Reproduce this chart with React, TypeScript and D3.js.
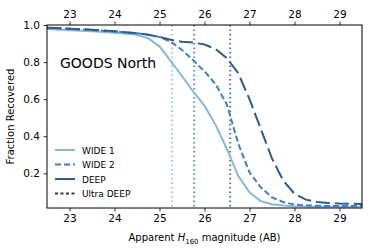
import * as d3 from 'd3';
import {useEffect, useRef} from 'react';

const mags = [22.5, 23, 23.5, 24, 24.5, 24.75, 25, 25.25, 25.5, 25.75, 26, 26.25, 26.5, 26.75, 27, 27.25, 27.5, 27.75, 28, 28.25, 28.5, 28.75, 29, 29.25, 29.5];
const wide1 = [0.978, 0.972, 0.966, 0.958, 0.947, 0.928, 0.885, 0.805, 0.725, 0.64, 0.565, 0.46, 0.33, 0.185, 0.097, 0.05, 0.033, 0.026, 0.022, 0.021, 0.02, 0.02, 0.02, 0.02, 0.02];
const wide2 = [0.985, 0.98, 0.973, 0.965, 0.955, 0.948, 0.935, 0.91, 0.865, 0.81, 0.75, 0.68, 0.57, 0.36, 0.205, 0.125, 0.07, 0.045, 0.032, 0.027, 0.025, 0.024, 0.024, 0.024, 0.024];
const deep = [0.985, 0.98, 0.975, 0.966, 0.956, 0.948, 0.935, 0.92, 0.91, 0.905, 0.895, 0.87, 0.82, 0.74, 0.6, 0.44, 0.28, 0.16, 0.09, 0.058, 0.045, 0.04, 0.037, 0.036, 0.035];
const limits = [25.28, 25.77, 26.57];
const xTicks = [23, 24, 25, 26, 27, 28, 29];
const yTicks = [0.2, 0.4, 0.6, 0.8, 1.0];
const legendNames = ['WIDE 1', 'WIDE 2', 'DEEP', 'Ultra DEEP'];

const colors = ['#89b5da', '#3f80bb', '#2f5b87', '#1f3e5e'];
const dashes = ['none', '6,3', '14,5', '3,2.5'];
const limitColors = ['#9cc4e4', '#5b93c7', '#4a78a8'];

export default function App() {
    const ref = useRef(null);
    const width = 374;
    const height = 250;
    const margins = {top: 25, right: 12, bottom: 42, left: 47};

    useEffect(() => {
        const svg = d3.select(ref.current);
        svg.selectAll('*').remove();
        const font = 'DejaVu Sans, sans-serif';

        const xScale = d3
            .scaleLinear()
            .domain([22.5, 29.5])
            .range([margins.left, width - margins.right]);
        const yScale = d3
            .scaleLinear()
            .domain([0.013, 1.0])
            .range([height - margins.bottom, margins.top]);

        const plot = svg.append('g');
        const clipId = 'clip-area';
        svg.append('clipPath')
            .attr('id', clipId)
            .append('rect')
            .attr('x', margins.left)
            .attr('y', margins.top)
            .attr('width', width - margins.left - margins.right)
            .attr('height', height - margins.top - margins.bottom);
        plot.attr('clip-path', `url(#${clipId})`);

        limits.forEach((m, i) => {
            plot.append('line')
                .attr('x1', xScale(m))
                .attr('x2', xScale(m))
                .attr('y1', margins.top)
                .attr('y2', height - margins.bottom)
                .attr('stroke', limitColors[i])
                .attr('stroke-width', 2)
                .attr('stroke-dasharray', '1.5,3');
        });

        const line = d3
            .line<number>()
            .x((_, i) => xScale(mags[i]))
            .y((d) => yScale(d));

        [wide1, wide2, deep].forEach((series, i) => {
            plot.append('path')
                .attr('d', line(series))
                .attr('fill', 'none')
                .attr('stroke', colors[i])
                .attr('stroke-width', 2)
                .attr('stroke-dasharray', dashes[i]);
        });

        const xBottom = d3.axisBottom(xScale).tickValues(xTicks).tickSize(3.5).tickPadding(3.5).tickFormat(d3.format('d'));
        const xTop = d3.axisTop(xScale).tickValues(xTicks).tickSize(3.5).tickPadding(3.5).tickFormat(d3.format('d'));
        const yAxis = d3.axisLeft(yScale).tickValues(yTicks).tickSize(3.5).tickPadding(3.5).tickFormat(d3.format('.1f'));

        const styleAxis = (g) => {
            g.select('.domain').remove();
            g.selectAll('text').attr('font-family', font).attr('font-size', 10.5).attr('fill', '#000');
            g.selectAll('line').attr('stroke', '#000').attr('stroke-width', 0.8);
        };

        svg.append('g').attr('transform', `translate(0, ${height - margins.bottom})`).call(xBottom).call(styleAxis);
        svg.append('g').attr('transform', `translate(0, ${margins.top})`).call(xTop).call(styleAxis);
        svg.append('g').attr('transform', `translate(${margins.left}, 0)`).call(yAxis).call(styleAxis);

        svg.append('rect')
            .attr('x', margins.left)
            .attr('y', margins.top)
            .attr('width', width - margins.left - margins.right)
            .attr('height', height - margins.top - margins.bottom)
            .attr('fill', 'none')
            .attr('stroke', '#000')
            .attr('stroke-width', 1);

        svg.append('text')
            .attr('x', 60)
            .attr('y', 68)
            .attr('font-family', font)
            .attr('font-size', 14)
            .text('GOODS North');

        const xl = svg.append('text')
            .attr('x', (margins.left + width - margins.right) / 2)
            .attr('y', 241)
            .attr('text-anchor', 'middle')
            .attr('font-family', font)
            .attr('font-size', 10);
        xl.append('tspan').text('Apparent ');
        xl.append('tspan').attr('font-style', 'italic').text('H');
        xl.append('tspan').attr('font-size', 7).attr('dy', 2.5).text('160');
        xl.append('tspan').attr('dy', -2.5).text(' magnitude (AB)');

        svg.append('text')
            .attr('transform', `translate(14, ${(margins.top + height - margins.bottom) / 2}) rotate(-90)`)
            .attr('text-anchor', 'middle')
            .attr('font-family', font)
            .attr('font-size', 10)
            .text('Fraction Recovered');

        const legend = svg.append('g');
        legendNames.forEach((name, i) => {
            const y = 150 + i * 14.5;
            legend.append('line')
                .attr('x1', 55)
                .attr('x2', 75)
                .attr('y1', y)
                .attr('y2', y)
                .attr('stroke', colors[i])
                .attr('stroke-width', 2)
                .attr('stroke-dasharray', i === 2 ? 'none' : dashes[i]);
            legend.append('text')
                .attr('x', 82)
                .attr('y', y + 3.5)
                .attr('font-family', font)
                .attr('font-size', 9)
                .text(name);
        });
    }, []);

    return <svg ref={ref} width={width} height={height} style={{position: 'absolute', left: 0, top: 0}}></svg>;
}
